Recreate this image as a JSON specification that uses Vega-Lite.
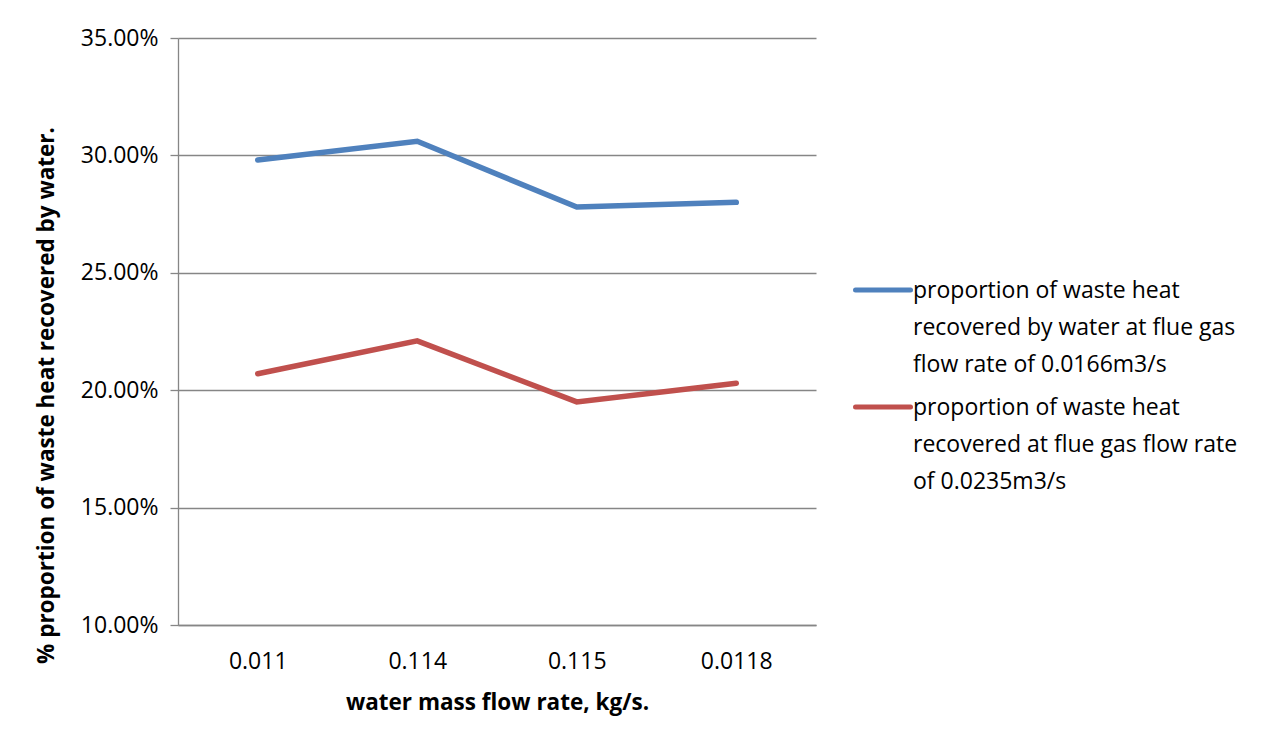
{
  "$schema": "https://vega.github.io/schema/vega-lite/v6.json",
  "width": 638,
  "height": 587,
  "autosize": {"type": "none"},
  "padding": {"left": 178, "top": 38, "right": 454, "bottom": 119},
  "background": "white",
  "data": {
    "values": [
      {"flow": "0.011", "order": 1, "series": "proportion of waste heat recovered by water at flue gas flow rate of 0.0166m3/s", "share": 0.298},
      {"flow": "0.114", "order": 2, "series": "proportion of waste heat recovered by water at flue gas flow rate of 0.0166m3/s", "share": 0.306},
      {"flow": "0.115", "order": 3, "series": "proportion of waste heat recovered by water at flue gas flow rate of 0.0166m3/s", "share": 0.278},
      {"flow": "0.0118", "order": 4, "series": "proportion of waste heat recovered by water at flue gas flow rate of 0.0166m3/s", "share": 0.280},
      {"flow": "0.011", "order": 1, "series": "proportion of waste heat recovered at flue gas flow rate of 0.0235m3/s", "share": 0.207},
      {"flow": "0.114", "order": 2, "series": "proportion of waste heat recovered at flue gas flow rate of 0.0235m3/s", "share": 0.221},
      {"flow": "0.115", "order": 3, "series": "proportion of waste heat recovered at flue gas flow rate of 0.0235m3/s", "share": 0.195},
      {"flow": "0.0118", "order": 4, "series": "proportion of waste heat recovered at flue gas flow rate of 0.0235m3/s", "share": 0.203}
    ]
  },
  "mark": {"type": "line", "strokeWidth": 5.5, "strokeCap": "round", "strokeJoin": "miter"},
  "encoding": {
    "x": {
      "field": "flow",
      "type": "ordinal",
      "sort": ["0.011", "0.114", "0.115", "0.0118"],
      "scale": {"type": "point", "padding": 0.5},
      "axis": {
        "title": "water mass flow rate, kg/s.",
        "labelAngle": 0,
        "ticks": false,
        "labelPadding": 25,
        "titlePadding": 18,
        "titleFontSize": 22.5,
        "grid": false
      }
    },
    "y": {
      "field": "share",
      "type": "quantitative",
      "scale": {"domain": [0.10, 0.35], "nice": false, "zero": false},
      "axis": {
        "title": "% proportion of waste heat recovered by water.",
        "values": [0.10, 0.15, 0.20, 0.25, 0.30, 0.35],
        "format": ".2%",
        "tickSize": 8,
        "labelPadding": 12,
        "titlePadding": 22,
        "titleFontSize": 22.5,
        "titleY": 357,
        "grid": true
      }
    },
    "color": {
      "field": "series",
      "type": "nominal",
      "sort": [
        "proportion of waste heat recovered by water at flue gas flow rate of 0.0166m3/s",
        "proportion of waste heat recovered at flue gas flow rate of 0.0235m3/s"
      ],
      "scale": {"range": ["#4F81BD", "#C0504D"]},
      "legend": {
        "title": null,
        "orient": "none",
        "legendX": 675,
        "legendY": 222,
        "padding": 0,
        "symbolType": "stroke",
        "symbolSize": 3025,
        "symbolStrokeWidth": 5,
        "labelOffset": 0,
        "labelLimit": 0,
        "labelBaseline": "alphabetic",
        "rowPadding": -9,
        "labelExpr": "indexof(datum.label, '0.0166') >= 0 ? ['proportion of waste heat', 'recovered by water at flue gas', 'flow rate of 0.0166m3/s'] : ['proportion of waste heat', 'recovered at flue gas flow rate', 'of 0.0235m3/s']",
        "encode": {
          "labels": {"update": {"lineHeight": {"value": 37}, "dy": {"value": 8}}},
          "symbols": {"update": {"strokeCap": {"value": "round"}}}
        }
      }
    }
  },
  "config": {
    "font": "Open Sans",
    "view": {"stroke": null},
    "axis": {
      "labelFont": "Open Sans",
      "labelFontSize": 23,
      "labelColor": "#000000",
      "titleFont": "Open Sans",
      "titleFontWeight": "bold",
      "titleColor": "#000000",
      "domainColor": "#868686",
      "domainWidth": 1.3,
      "tickColor": "#868686",
      "tickWidth": 1.3,
      "gridColor": "#868686",
      "gridWidth": 1.3,
      "gridOpacity": 1
    },
    "legend": {
      "labelFont": "Open Sans",
      "labelFontSize": 23,
      "labelColor": "#000000"
    }
  }
}
